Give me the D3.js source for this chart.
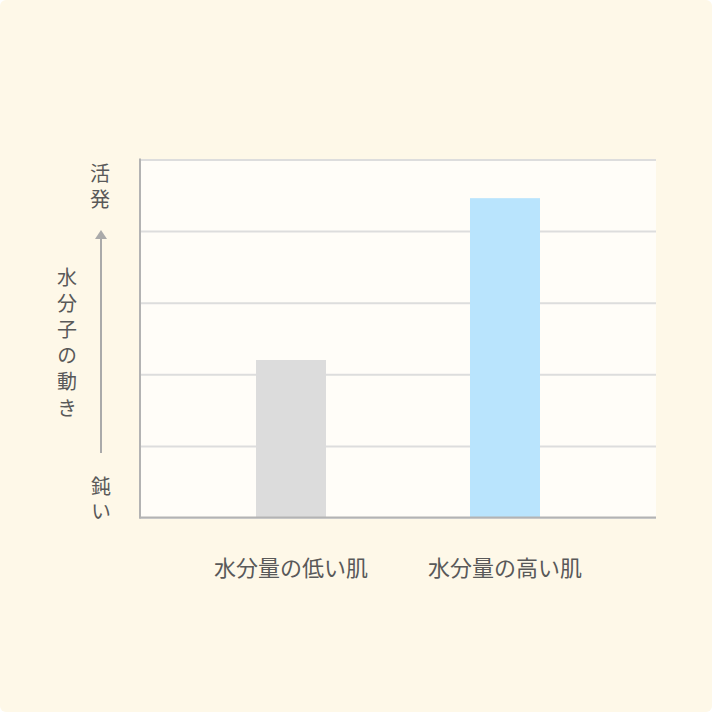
<!DOCTYPE html>
<html><head><meta charset="utf-8">
<script src="https://cdn.jsdelivr.net/npm/d3@7"></script>
<style>
html,body{margin:0;padding:0;background:#fff;}
svg{display:block;}
text{font-family:"Noto Sans CJK JP","Noto Sans",sans-serif;fill:#595959;}
</style></head>
<body>
<svg id="c" width="712" height="712"></svg>
<script>
const categories = ["水分量の低い肌", "水分量の高い肌"];
const values = [2.2, 4.46];
const barColors = ["#dcdcdc", "#b9e4fd"];
const gridTicks = [0, 1, 2, 3, 4, 5];
const yTopLabel = "活発";
const yBottomLabel = "鈍い";
const yTitle = "水分子の動き";

const svg = d3.select("#c");
svg.append("rect").attr("x",0).attr("y",0).attr("width",712).attr("height",712)
  .attr("rx",6).attr("fill","#fef8e8");

const L = 140, R = 656, T = 159.5, B = 517.5;
const x = d3.scaleBand().domain(categories).range([L, R]).paddingInner(0.673).paddingOuter(0.542);
const y = d3.scaleLinear().domain([0, 5]).range([B, T]);

svg.append("rect").attr("x",L).attr("y",T).attr("width",R-L).attr("height",B-T).attr("fill","#fffdf8");

const grid = svg.append("g").attr("transform",`translate(${L},0)`)
  .call(d3.axisLeft(y).tickValues(gridTicks).tickSize(-(R-L)).tickFormat(""));
grid.select(".domain").remove();
grid.selectAll(".tick line").attr("stroke","#dddddd").attr("stroke-width",2);

svg.selectAll("rect.bar").data(values).join("rect").attr("class","bar")
  .attr("x",(d,i)=>x(categories[i])).attr("width",x.bandwidth())
  .attr("y",d=>y(d)).attr("height",d=>B-y(d))
  .attr("fill",(d,i)=>barColors[i]);

// axes lines
svg.append("line").attr("x1",L).attr("x2",L).attr("y1",T-1).attr("y2",B+1)
  .attr("stroke","#b3b3b3").attr("stroke-width",2);
svg.append("line").attr("x1",L-1).attr("x2",R).attr("y1",B).attr("y2",B)
  .attr("stroke","#b3b3b3").attr("stroke-width",2);

// x labels
svg.selectAll("text.xl").data(categories).join("text").attr("class","xl")
  .attr("x",d=>x(d)+x.bandwidth()/2).attr("y",568).attr("dy","0.36em")
  .attr("text-anchor","middle").attr("font-size",22).text(d=>d);

// y labels (vertical writing)
function vtext(str, cx, top, spacing, fs){
  svg.append("text")
    .attr("x",cx).attr("y",top)
    .attr("text-anchor","start")
    .style("writing-mode","vertical-rl")
    .style("letter-spacing", spacing+"px")
    .attr("font-size",fs).text(str);
}
vtext(yTopLabel, 100, 163, 6, 20);
vtext(yBottomLabel, 101, 476, 5, 20);
vtext(yTitle, 67, 267, 6.2, 20);

// arrow
svg.append("line").attr("x1",101).attr("x2",101).attr("y1",237).attr("y2",453)
  .attr("stroke","#aaaaaa").attr("stroke-width",2);
svg.append("path").attr("d","M101,230 L107,239 L95,239 Z").attr("fill","#aaaaaa");
</script>
</body></html>
